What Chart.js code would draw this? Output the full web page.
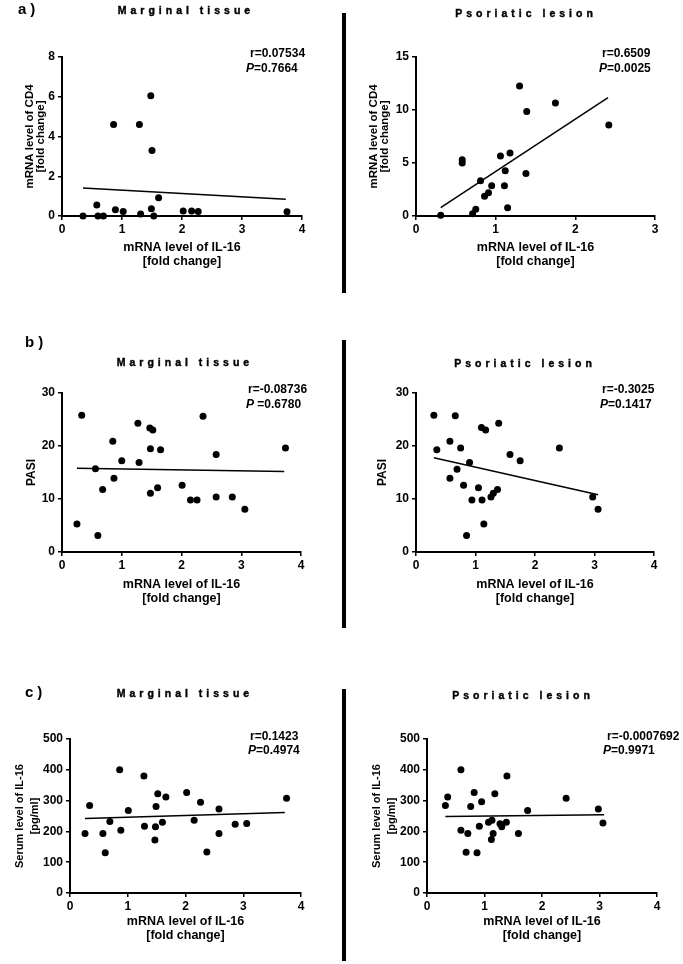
<!DOCTYPE html>
<html>
<head>
<meta charset="utf-8">
<script src="https://cdn.jsdelivr.net/npm/chart.js@4.4.1/dist/chart.umd.min.js"></script>
<style>
  html, body { margin: 0; padding: 0; background: #fff; }
  #page { position: relative; width: 683px; height: 964px; overflow: hidden; font-family: "Liberation Sans", Arial, sans-serif; color: #000; }
  canvas { position: absolute; }
  .t { position: absolute; white-space: nowrap; font-weight: bold; line-height: 14px; }
  .title { font-size: 10.5px; letter-spacing: 4px; transform: translateX(-50%); -webkit-text-stroke: 0.4px #000; }
  .lab { font-size: 15px; letter-spacing: 4px; }
  .ann { font-size: 12px; }
  .sep { position: absolute; left: 342px; width: 4px; background: #000; }
</style>
</head>
<body>
<div id="page">
  <canvas id="aL" width="340" height="275" style="left:0;top:0"></canvas>
  <canvas id="aR" width="338" height="275" style="left:345px;top:0"></canvas>
  <canvas id="bL" width="340" height="280" style="left:0;top:330px"></canvas>
  <canvas id="bR" width="338" height="280" style="left:345px;top:330px"></canvas>
  <canvas id="cL" width="340" height="274" style="left:0;top:690px"></canvas>
  <canvas id="cR" width="338" height="274" style="left:345px;top:690px"></canvas>

  <div class="sep" style="top:13px;height:280px"></div>
  <div class="sep" style="top:340px;height:288px"></div>
  <div class="sep" style="top:689px;height:272px"></div>

  <div class="t lab" style="left:18px;top:2px">a)</div>
  <div class="t lab" style="left:25px;top:335px">b)</div>
  <div class="t lab" style="left:25px;top:685px">c)</div>

  <div class="t title" style="left:186px;top:3px">Marginal tissue</div>
  <div class="t title" style="left:526px;top:6px">Psoriatic lesion</div>
  <div class="t title" style="left:185px;top:355px">Marginal tissue</div>
  <div class="t title" style="left:525px;top:356px">Psoriatic lesion</div>
  <div class="t title" style="left:185px;top:686px">Marginal tissue</div>
  <div class="t title" style="left:523px;top:688px">Psoriatic lesion</div>

  <div class="t ann" style="left:250px;top:46px">r=0.07534</div>
  <div class="t ann" style="left:246px;top:61px"><i>P</i>=0.7664</div>
  <div class="t ann" style="left:602px;top:46px">r=0.6509</div>
  <div class="t ann" style="left:599px;top:61px"><i>P</i>=0.0025</div>
  <div class="t ann" style="left:248px;top:382px">r=-0.08736</div>
  <div class="t ann" style="left:246px;top:397px"><i>P</i> =0.6780</div>
  <div class="t ann" style="left:602px;top:382px">r=-0.3025</div>
  <div class="t ann" style="left:600px;top:397px"><i>P</i>=0.1417</div>
  <div class="t ann" style="left:250px;top:729px">r=0.1423</div>
  <div class="t ann" style="left:248px;top:743px"><i>P</i>=0.4974</div>
  <div class="t ann" style="left:607px;top:729px">r=-0.0007692</div>
  <div class="t ann" style="left:603px;top:743px"><i>P</i>=0.9971</div>
</div>
<script>
// a) CD4 vs IL-16, marginal tissue
var aMargX = [0.35, 0.58, 0.60, 0.69, 0.86, 0.89, 1.02, 1.29, 1.31, 1.48, 1.49, 1.50, 1.53, 1.61, 2.02, 2.16, 2.27, 3.75];
var aMargY = [0, 0.55, 0, 0, 4.6, 0.32, 0.23, 4.6, 0.1, 6.05, 0.37, 3.29, 0, 0.92, 0.25, 0.25, 0.23, 0.22];
var aMargFitX = [0.35, 3.73], aMargFitY = [1.41, 0.84];

// a) CD4 vs IL-16, psoriatic lesion
var aPsorX = [0.31, 0.58, 0.58, 0.71, 0.75, 0.81, 0.86, 0.91, 0.95, 1.06, 1.11, 1.12, 1.15, 1.18, 1.30, 1.38, 1.39, 1.75, 2.42];
var aPsorY = [0.06, 5.3, 5.0, 0.22, 0.63, 3.33, 1.86, 2.2, 2.86, 5.66, 2.86, 4.28, 0.79, 5.94, 12.26, 4.0, 9.87, 10.66, 8.58];
var aPsorFitX = [0.31, 2.41], aPsorFitY = [0.79, 11.16];

// b) PASI vs IL-16
var bMargX = [0.25, 0.33, 0.56, 0.60, 0.68, 0.85, 0.87, 1.00, 1.27, 1.29, 1.47, 1.48, 1.48, 1.52, 1.60, 1.65, 2.01, 2.15, 2.26, 2.36, 2.58, 2.58, 2.85, 3.06, 3.74];
var bMargY = [5.3, 25.8, 15.7, 3.1, 11.8, 20.9, 13.9, 17.2, 24.3, 16.9, 23.4, 19.5, 11.1, 23.0, 12.1, 19.3, 12.6, 9.8, 9.8, 25.6, 18.4, 10.4, 10.4, 8.05, 19.6];
var bMargFitX = [0.25, 3.72], bMargFitY = [15.8, 15.2];

var bPsorX = [0.30, 0.35, 0.57, 0.57, 0.66, 0.69, 0.75, 0.80, 0.85, 0.90, 0.94, 1.05, 1.10, 1.11, 1.14, 1.17, 1.26, 1.30, 1.37, 1.39, 1.58, 1.75, 2.41, 2.97, 3.06];
var bPsorY = [25.8, 19.3, 20.9, 13.9, 25.7, 15.6, 19.6, 12.6, 3.1, 16.9, 9.8, 12.1, 23.5, 9.8, 5.3, 23.0, 10.4, 11.1, 11.8, 24.3, 18.4, 17.2, 19.6, 10.4, 8.05];
var bPsorFitX = [0.30, 3.06], bPsorFitY = [17.8, 10.8];

// c) serum IL-16 vs IL-16 mRNA
var cMargX = [0.26, 0.34, 0.57, 0.61, 0.69, 0.86, 0.88, 1.01, 1.28, 1.29, 1.47, 1.48, 1.49, 1.52, 1.60, 1.66, 2.02, 2.15, 2.26, 2.37, 2.58, 2.58, 2.86, 3.06, 3.75];
var cMargY = [193, 284, 193, 131, 232, 400, 204, 268, 380, 217, 172, 215, 281, 322, 230, 312, 326, 236, 295, 133, 193, 273, 223, 226, 308];
var cMargFitX = [0.26, 3.72], cMargFitY = [242, 261];

var cPsorX = [0.32, 0.36, 0.59, 0.59, 0.68, 0.71, 0.76, 0.82, 0.87, 0.91, 0.95, 1.07, 1.13, 1.12, 1.15, 1.18, 1.27, 1.30, 1.38, 1.39, 1.59, 1.75, 2.42, 2.98, 3.06];
var cPsorY = [284, 312, 400, 204, 132, 193, 281, 326, 131, 217, 296, 230, 236, 174, 193, 322, 225, 215, 230, 380, 193, 268, 308, 273, 227];
var cPsorFitX = [0.32, 3.08], cPsorFitY = [248, 254];

var xLabel = ['mRNA level of IL-16', '[fold change]'];
var FONT = '"Liberation Sans", Arial, sans-serif';

function pts(xs, ys) {
    var out = [];
    for (var i = 0; i < xs.length; i++) out.push({x: xs[i], y: ys[i]});
    return out;
}

// p: canvas box, wanted chart area (page coords) and title positions
function panel(p) {
    var yLh = p.yLh, xLh = 14;
    var yW = p.area.l - p.left;
    var xH = p.top + p.h - p.area.b;
    new Chart(document.getElementById(p.id), {
        type: 'scatter',
        data: {
            datasets: [
                {
                    data: pts(p.xs, p.ys),
                    pointRadius: 3.5,
                    pointBackgroundColor: '#000',
                    pointBorderWidth: 0,
                    clip: false
                },
                {
                    type: 'line',
                    data: pts(p.fitX, p.fitY),
                    borderColor: '#000',
                    borderWidth: 1.5,
                    pointRadius: 0,
                    fill: false,
                    clip: false
                }
            ]
        },
        options: {
            responsive: false,
            devicePixelRatio: 1,
            animation: false,
            layout: { padding: { left: 0, top: p.area.t - p.top, right: p.left + p.w - p.area.r, bottom: 0 } },
            plugins: { legend: { display: false }, tooltip: { enabled: false } },
            scales: {
                x: {
                    type: 'linear', min: 0, max: p.xMax,
                    ticks: { stepSize: 1, color: '#000', padding: 2, font: { family: FONT, size: 12, weight: 'bold' } },
                    grid: { drawOnChartArea: false, tickLength: 4, color: '#000', lineWidth: 1.5 },
                    border: { color: '#000', width: 2 },
                    title: {
                        display: true, text: xLabel, color: '#000',
                        font: { family: FONT, size: 12.5, weight: 'bold', lineHeight: xLh / 12.5 },
                        padding: { top: 0, bottom: p.top + p.h - p.xty - xLh / 2 }
                    },
                    afterFit: function(s) { s.height = xH; }
                },
                y: {
                    type: 'linear', min: 0, max: p.yMax,
                    ticks: { stepSize: p.yStep, color: '#000', padding: 3, font: { family: FONT, size: 12, weight: 'bold' } },
                    grid: { drawOnChartArea: false, tickLength: 4, color: '#000', lineWidth: 1.5 },
                    border: { color: '#000', width: 2 },
                    title: {
                        display: true, text: p.yTitle, color: '#000',
                        font: { family: FONT, size: p.yFs, weight: 'bold', lineHeight: yLh / p.yFs },
                        padding: { top: p.ytx - p.left - yLh / 2, bottom: 0 }
                    },
                    afterFit: function(s) { s.width = yW; }
                }
            }
        }
    });
}

var cd4 = ['mRNA level of CD4', '[fold change]'];
var serum = ['Serum level of IL-16', '[pg/ml]'];

panel({ id: 'aL', left: 0, top: 0, w: 340, h: 275, area: { l: 62, r: 302, t: 57, b: 216 },
    xMax: 4, yMax: 8, yStep: 2, xs: aMargX, ys: aMargY, fitX: aMargFitX, fitY: aMargFitY,
    yTitle: cd4, yFs: 11.5, yLh: 11, ytx: 30, xty: 262 });
panel({ id: 'aR', left: 345, top: 0, w: 338, h: 275, area: { l: 416, r: 655, t: 57, b: 216 },
    xMax: 3, yMax: 15, yStep: 5, xs: aPsorX, ys: aPsorY, fitX: aPsorFitX, fitY: aPsorFitY,
    yTitle: cd4, yFs: 11.5, yLh: 11, ytx: 374, xty: 262 });
panel({ id: 'bL', left: 0, top: 330, w: 340, h: 280, area: { l: 62, r: 301, t: 393, b: 552 },
    xMax: 4, yMax: 30, yStep: 10, xs: bMargX, ys: bMargY, fitX: bMargFitX, fitY: bMargFitY,
    yTitle: 'PASI', yFs: 12, yLh: 12, ytx: 32, xty: 599 });
panel({ id: 'bR', left: 345, top: 330, w: 338, h: 280, area: { l: 416, r: 654, t: 393, b: 552 },
    xMax: 4, yMax: 30, yStep: 10, xs: bPsorX, ys: bPsorY, fitX: bPsorFitX, fitY: bPsorFitY,
    yTitle: 'PASI', yFs: 12, yLh: 12, ytx: 383, xty: 599 });
panel({ id: 'cL', left: 0, top: 690, w: 340, h: 274, area: { l: 70, r: 301, t: 739, b: 893 },
    xMax: 4, yMax: 500, yStep: 100, xs: cMargX, ys: cMargY, fitX: cMargFitX, fitY: cMargFitY,
    yTitle: serum, yFs: 11, yLh: 15, ytx: 20, xty: 936 });
panel({ id: 'cR', left: 345, top: 690, w: 338, h: 274, area: { l: 427, r: 657, t: 739, b: 893 },
    xMax: 4, yMax: 500, yStep: 100, xs: cPsorX, ys: cPsorY, fitX: cPsorFitX, fitY: cPsorFitY,
    yTitle: serum, yFs: 11, yLh: 15, ytx: 377, xty: 936 });
</script>
</body>
</html>
